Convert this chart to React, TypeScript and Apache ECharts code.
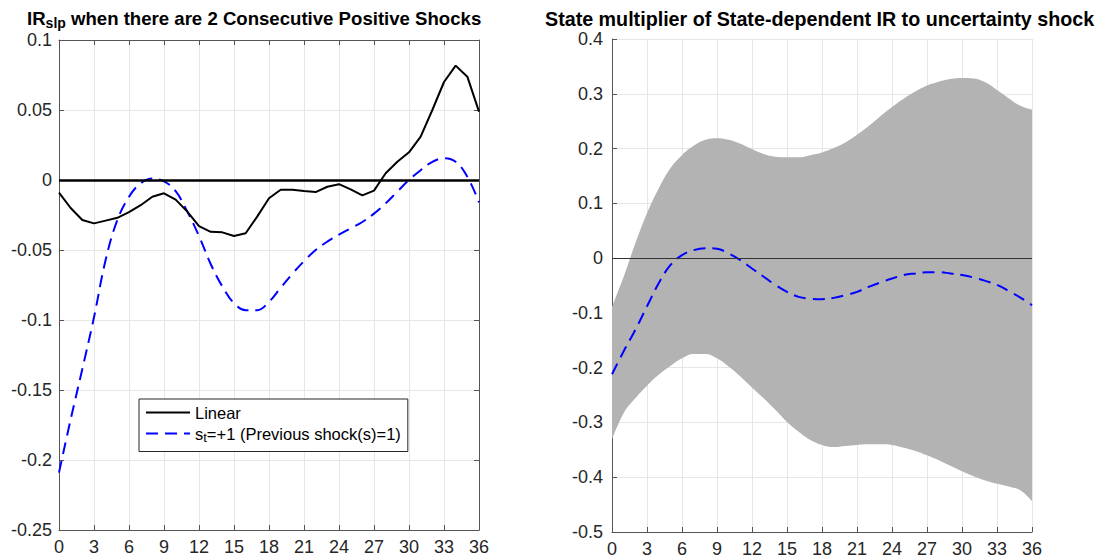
import React, { useEffect, useRef } from "react";
import * as echarts from "echarts";

const horizons = [0, 1, 2, 3, 4, 5, 6, 7, 8, 9, 10, 11, 12, 13, 14, 15, 16, 17, 18, 19, 20, 21, 22, 23, 24, 25, 26, 27, 28, 29, 30, 31, 32, 33, 34, 35, 36];

const linearIR = [-0.009, -0.02, -0.0286, -0.031, -0.029, -0.027, -0.023, -0.018, -0.012, -0.0095, -0.014, -0.0226, -0.033, -0.037, -0.0374, -0.04, -0.038, -0.026, -0.013, -0.007, -0.007, -0.0079, -0.0086, -0.0048, -0.003, -0.0067, -0.011, -0.0076, 0.0048, 0.013, 0.0198, 0.031, 0.05, 0.07, 0.0817, 0.0738, 0.0488];

const stateIR = [-0.209, -0.171, -0.135, -0.098, -0.057, -0.0286, -0.012, -0.0024, 0.001, -0.001, -0.008, -0.0226, -0.04, -0.06, -0.076, -0.088, -0.093, -0.093, -0.087, -0.077, -0.067, -0.058, -0.05, -0.044, -0.039, -0.0345, -0.03, -0.024, -0.0167, -0.0083, 0, 0.007, 0.013, 0.0155, 0.013, 0.0024, -0.016];

const multiplier = [-0.212, -0.17, -0.131, -0.088, -0.046, -0.013, 0.0055, 0.0146, 0.018, 0.017, 0.0085, -0.0037, -0.019, -0.034, -0.049, -0.0616, -0.0707, -0.074, -0.075, -0.0726, -0.0677, -0.0616, -0.0524, -0.0445, -0.0372, -0.031, -0.028, -0.0256, -0.0256, -0.028, -0.031, -0.0354, -0.0415, -0.049, -0.06, -0.072, -0.086];

const bandUpper = [-0.089, -0.034, 0.027, 0.082, 0.127, 0.164, 0.188, 0.205, 0.216, 0.219, 0.216, 0.209, 0.199, 0.19, 0.185, 0.184, 0.184, 0.188, 0.193, 0.201, 0.211, 0.225, 0.241, 0.259, 0.276, 0.291, 0.304, 0.315, 0.322, 0.327, 0.329, 0.328, 0.321, 0.307, 0.292, 0.278, 0.271];

const bandLower = [-0.331, -0.283, -0.256, -0.233, -0.213, -0.197, -0.183, -0.175, -0.175, -0.183, -0.198, -0.216, -0.236, -0.256, -0.277, -0.299, -0.317, -0.332, -0.341, -0.345, -0.343, -0.341, -0.34, -0.34, -0.341, -0.346, -0.352, -0.36, -0.369, -0.379, -0.389, -0.398, -0.406, -0.412, -0.417, -0.424, -0.444];

const linearName = "Linear";
const stateName = "s_t=+1 (Previous shock(s)=1)";

const FONT = "'Liberation Sans', Arial, Helvetica, sans-serif";
const AXIS = "#555555";
const GRIDC = "#e6e6e6";
const LABEL = "#262626";
const TICK_FS = 18;

const fmt = (v: number) => String(parseFloat(Number(v).toFixed(2)));

function mainY(gridIndex: number, min: number, max: number, interval: number, margin: number) {
  return {
    type: "value",
    gridIndex,
    min,
    max,
    interval,
    axisLine: { show: true, onZero: false, lineStyle: { color: AXIS, width: 1 } },
    axisTick: { show: true, inside: true, length: 5, lineStyle: { color: AXIS } },
    axisLabel: { color: LABEL, fontSize: TICK_FS, fontFamily: FONT, margin, formatter: fmt },
    splitLine: { show: true, lineStyle: { color: GRIDC, width: 1 } },
  };
}

export default function App() {
  const ref = useRef<HTMLDivElement>(null);

  useEffect(() => {
    if (!ref.current) return;
    const chart = echarts.init(ref.current, null, { renderer: "svg" });
    const pairs = (vals: number[]) => horizons.map((h, i) => [h, vals[i]]);
    const bandWidth = horizons.map((h, i) => bandUpper[i] - bandLower[i]);

    const option: any = {
      animation: false,
      backgroundColor: "#ffffff",
      title: [
        {
          text: "{m|IR}{s|slp}{m| when there are 2 Consecutive Positive Shocks}",
          left: 27,
          top: 6,
          padding: 0,
          textStyle: {
            rich: {
              m: { fontSize: 18.6, fontWeight: "bold", color: "#000", fontFamily: FONT, lineHeight: 24 },
              s: { fontSize: 14, fontWeight: "bold", color: "#000", fontFamily: FONT, lineHeight: 12, verticalAlign: "bottom" },
            },
          },
        },
        {
          text: "State multiplier of State-dependent IR to uncertainty shock",
          left: 545,
          top: 10,
          padding: 0,
          textStyle: { fontSize: 19.7, fontWeight: "bold", color: "#000", fontFamily: FONT, lineHeight: 18 },
        },
      ],
      legend: {
        data: [linearName, stateName],
        orient: "vertical",
        left: 139,
        top: 399,
        padding: [5, 7, 8, 6],
        itemGap: 4,
        itemWidth: 44,
        itemHeight: 14,
        borderColor: "#262626",
        borderWidth: 1,
        backgroundColor: "#ffffff",
        borderRadius: 0,
        itemStyle: { opacity: 0 },
        formatter: (name: string) =>
          name === stateName ? "{n|s}{sub|t}{n|=+1 (Previous shock(s)=1)}" : "{n|Linear}",
        textStyle: {
          fontSize: 16.5,
          color: "#000",
          fontFamily: FONT,
          rich: {
            n: { fontSize: 16.5, color: "#000", fontFamily: FONT, lineHeight: 20 },
            sub: { fontSize: 13, color: "#000", fontFamily: FONT, lineHeight: 12, verticalAlign: "bottom" },
          },
        },
      },
      grid: [
        { left: 59, top: 40, width: 420, height: 490, containLabel: false },
        { left: 612, top: 39, width: 420, height: 493, containLabel: false },
      ],
      xAxis: [
        {
          type: "value",
          gridIndex: 0,
          min: 0,
          max: 36,
          interval: 3,
          axisLine: { show: true, onZero: false, lineStyle: { color: AXIS, width: 1 } },
          axisTick: { show: true, inside: true, length: 5, lineStyle: { color: AXIS } },
          axisLabel: { color: LABEL, fontSize: TICK_FS, fontFamily: FONT, margin: 8 },
          splitLine: { show: true, lineStyle: { color: GRIDC, width: 1 } },
        },
        {
          type: "value",
          gridIndex: 0,
          position: "top",
          min: 0,
          max: 36,
          interval: 3,
          axisLine: { show: true, onZero: false, lineStyle: { color: AXIS, width: 1 } },
          axisTick: { show: true, inside: true, length: 5, lineStyle: { color: AXIS } },
          axisLabel: { show: false },
          splitLine: { show: false },
        },
        {
          type: "category",
          gridIndex: 1,
          data: horizons,
          boundaryGap: false,
          axisLine: { show: true, onZero: false, lineStyle: { color: AXIS, width: 1 } },
          axisTick: { show: true, inside: true, length: 5, interval: 2, lineStyle: { color: AXIS } },
          axisLabel: { color: LABEL, fontSize: TICK_FS, fontFamily: FONT, margin: 8, interval: 2 },
          splitLine: { show: true, interval: 2, lineStyle: { color: GRIDC, width: 1 } },
        },
      ],
      yAxis: [
        mainY(0, -0.25, 0.1, 0.05, 7),
        {
          type: "value",
          gridIndex: 0,
          position: "right",
          min: -0.25,
          max: 0.1,
          interval: 0.05,
          axisLine: { show: true, onZero: false, lineStyle: { color: AXIS, width: 1 } },
          axisTick: { show: true, inside: true, length: 5, lineStyle: { color: AXIS } },
          axisLabel: { show: false },
          splitLine: { show: false },
        },
        mainY(1, -0.5, 0.4, 0.1, 9),
      ],
      series: [
        {
          name: linearName,
          type: "line",
          xAxisIndex: 0,
          yAxisIndex: 0,
          data: pairs(linearIR),
          symbol: "none",
          lineStyle: { color: "#000", width: 2 },
          itemStyle: { color: "#000" },
          markLine: {
            silent: true,
            symbol: ["none", "none"],
            label: { show: false },
            lineStyle: { color: "#000", width: 2.6, type: "solid" },
            data: [{ yAxis: 0 }],
          },
          z: 3,
        },
        {
          name: stateName,
          type: "line",
          xAxisIndex: 0,
          yAxisIndex: 0,
          data: pairs(stateIR),
          symbol: "none",
          smooth: 0.4,
          lineStyle: { color: "#0000ff", width: 2, type: [12, 7] },
          itemStyle: { color: "#0000ff" },
          z: 2,
        },
        {
          name: "bandLower",
          type: "line",
          xAxisIndex: 2,
          yAxisIndex: 2,
          data: bandLower,
          stack: "band",
          stackStrategy: "all",
          symbol: "none",
          smooth: 0.4,
          silent: true,
          lineStyle: { opacity: 0 },
          z: 1,
        },
        {
          name: "bandWidth",
          type: "line",
          xAxisIndex: 2,
          yAxisIndex: 2,
          data: bandWidth,
          stack: "band",
          stackStrategy: "all",
          symbol: "none",
          smooth: 0.4,
          silent: true,
          lineStyle: { opacity: 0 },
          areaStyle: { color: "#b3b3b3", opacity: 1 },
          z: 1,
        },
        {
          name: "multiplier",
          type: "line",
          xAxisIndex: 2,
          yAxisIndex: 2,
          data: multiplier,
          symbol: "none",
          smooth: 0.4,
          lineStyle: { color: "#0000ff", width: 2, type: [12, 7] },
          itemStyle: { color: "#0000ff" },
          markLine: {
            silent: true,
            symbol: ["none", "none"],
            label: { show: false },
            lineStyle: { color: "#333", width: 1, type: "solid" },
            data: [{ yAxis: 0 }],
          },
          z: 3,
        },
      ],
    };

    chart.setOption(option);
    return () => chart.dispose();
  }, []);

  return (
    <div
      ref={ref}
      style={{ position: "fixed", left: 0, top: 0, width: 1104, height: 560, background: "#fff" }}
    />
  );
}
